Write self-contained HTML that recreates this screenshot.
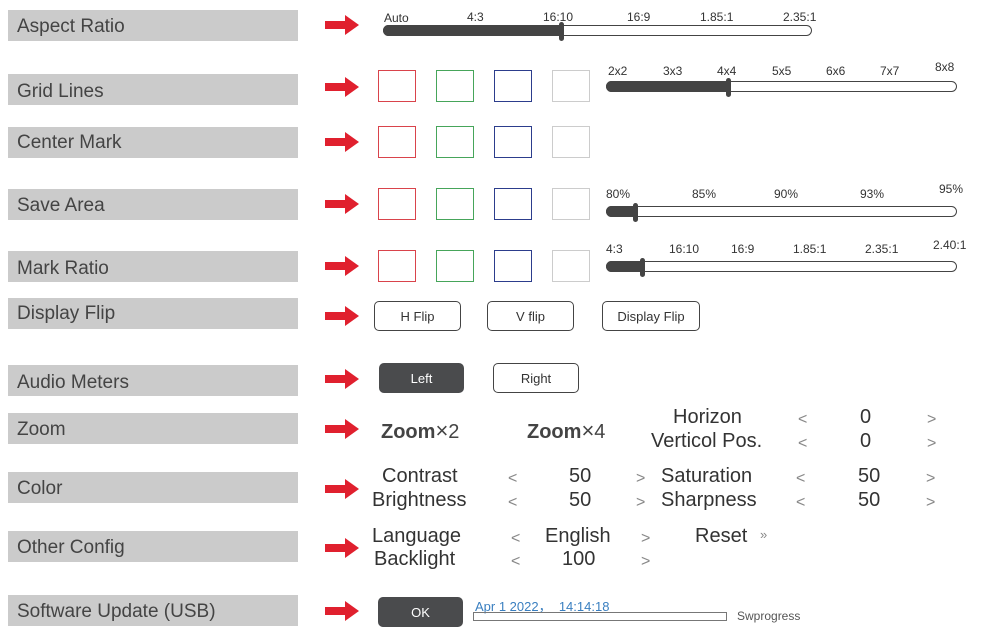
<!DOCTYPE html>
<html><head><style>
body{margin:0;width:1005px;height:634px;background:#fff;position:relative;overflow:hidden;font-family:"Liberation Sans",sans-serif;color:#444}
.l{position:absolute;left:8px;width:290px;height:31px;background:#cbcbcb;font-size:19px;line-height:35px;text-indent:9px;color:#444}
.a{position:absolute;left:325px;width:34px;height:14px}
.s{position:absolute;width:36px;height:30px;border:1.5px solid}
.t{position:absolute;font-size:12px;color:#333}
.bar{position:absolute;height:9px;border:1.5px solid #444;border-radius:6px;background:#fff;overflow:visible}
.bar i{position:absolute;left:-1px;top:-1px;bottom:-1px;background:#444;border-radius:6px 0 0 6px}
.bar b{position:absolute;top:-4px;width:5px;height:19px;background:#444;border-radius:3px}
.btn{position:absolute;height:28px;border:1.5px solid #444;border-radius:5px;font-size:13px;text-align:center;line-height:29px;color:#333}
.g{position:absolute;font-size:20px;color:#333;font-family:"Liberation Sans","Noto Sans CJK SC",sans-serif}
.c{position:absolute;font-size:16px;color:#888}
</style></head><body>
<div class="l" style="top:10px;line-height:33px">Aspect Ratio</div>
<div class="l" style="top:74px">Grid Lines</div>
<div class="l" style="top:127px;line-height:31px">Center Mark</div>
<div class="l" style="top:189px;line-height:33px">Save Area</div>
<div class="l" style="top:251px">Mark Ratio</div>
<div class="l" style="top:298px;line-height:31px">Display Flip</div>
<div class="l" style="top:365px">Audio Meters</div>
<div class="l" style="top:413px;line-height:33px">Zoom</div>
<div class="l" style="top:472px;line-height:33px">Color</div>
<div class="l" style="top:531px;line-height:33px">Other Config</div>
<div class="l" style="top:595px;line-height:33px">Software Update (USB)</div>

<svg width="1005" height="634" style="position:absolute;left:0;top:0">
<defs><g id="ar"><path d="M0,-4 H20 V-10 L34,0 L20,10 V4 H0 Z" fill="#e0202e"/></g></defs>
<use href="#ar" x="325" y="25"/><use href="#ar" x="325" y="87"/><use href="#ar" x="325" y="142"/>
<use href="#ar" x="325" y="204"/><use href="#ar" x="325" y="266"/><use href="#ar" x="325" y="316"/>
<use href="#ar" x="325" y="379"/><use href="#ar" x="325" y="429"/><use href="#ar" x="325" y="489"/>
<use href="#ar" x="325" y="548"/><use href="#ar" x="325" y="611"/>
</svg>

<div class="t" style="left:384px;top:11px">Auto</div><div class="t" style="left:467px;top:10px">4:3</div>
<div class="t" style="left:543px;top:10px">16:10</div><div class="t" style="left:627px;top:10px">16:9</div>
<div class="t" style="left:700px;top:10px">1.85:1</div><div class="t" style="left:783px;top:10px">2.35:1</div>
<div class="bar" style="left:383px;top:25px;width:427px"><i style="width:178px"></i><b style="left:175px"></b></div>

<div class="s" style="left:378px;top:70px;border-color:#d9434b"></div><div class="s" style="left:436px;top:70px;border-color:#46a55a"></div><div class="s" style="left:494px;top:70px;border-color:#2c3d8c"></div><div class="s" style="left:552px;top:70px;border-color:#ccc"></div>
<div class="s" style="left:378px;top:126px;border-color:#d9434b"></div><div class="s" style="left:436px;top:126px;border-color:#46a55a"></div><div class="s" style="left:494px;top:126px;border-color:#2c3d8c"></div><div class="s" style="left:552px;top:126px;border-color:#ccc"></div>
<div class="s" style="left:378px;top:188px;border-color:#d9434b"></div><div class="s" style="left:436px;top:188px;border-color:#46a55a"></div><div class="s" style="left:494px;top:188px;border-color:#2c3d8c"></div><div class="s" style="left:552px;top:188px;border-color:#ccc"></div>
<div class="s" style="left:378px;top:250px;border-color:#d9434b"></div><div class="s" style="left:436px;top:250px;border-color:#46a55a"></div><div class="s" style="left:494px;top:250px;border-color:#2c3d8c"></div><div class="s" style="left:552px;top:250px;border-color:#ccc"></div>

<div class="t" style="left:608px;top:64px">2x2</div><div class="t" style="left:663px;top:64px">3x3</div><div class="t" style="left:717px;top:64px">4x4</div>
<div class="t" style="left:772px;top:64px">5x5</div><div class="t" style="left:826px;top:64px">6x6</div><div class="t" style="left:880px;top:64px">7x7</div><div class="t" style="left:935px;top:60px">8x8</div>
<div class="bar" style="left:606px;top:81px;width:349px"><i style="width:122px"></i><b style="left:119px"></b></div>

<div class="t" style="left:606px;top:187px">80%</div><div class="t" style="left:692px;top:187px">85%</div><div class="t" style="left:774px;top:187px">90%</div>
<div class="t" style="left:860px;top:187px">93%</div><div class="t" style="left:939px;top:182px">95%</div>
<div class="bar" style="left:606px;top:206px;width:349px"><i style="width:30px"></i><b style="left:26px"></b></div>

<div class="t" style="left:606px;top:242px">4:3</div><div class="t" style="left:669px;top:242px">16:10</div><div class="t" style="left:731px;top:242px">16:9</div>
<div class="t" style="left:793px;top:242px">1.85:1</div><div class="t" style="left:865px;top:242px">2.35:1</div><div class="t" style="left:933px;top:238px">2.40:1</div>
<div class="bar" style="left:606px;top:261px;width:349px"><i style="width:37px"></i><b style="left:33px"></b></div>

<div class="btn" style="left:374px;top:301px;width:85px">H Flip</div>
<div class="btn" style="left:487px;top:301px;width:85px">V flip</div>
<div class="btn" style="left:602px;top:301px;width:96px">Display Flip</div>
<div class="btn" style="left:379px;top:363px;width:83px;background:#4a4b4d;border-color:#4a4b4d;color:#fff">Left</div>
<div class="btn" style="left:493px;top:363px;width:84px">Right</div>

<div class="g" style="left:381px;top:418px;font-weight:bold;color:#444">Zoom<span style="font-weight:normal;font-size:22px">×</span><span style="font-weight:normal">2</span></div>
<div class="g" style="left:527px;top:418px;font-weight:bold;color:#444">Zoom<span style="font-weight:normal;font-size:22px">×</span><span style="font-weight:normal">4</span></div>
<div class="g" style="left:673px;top:406px">Horizon</div>
<div class="g" style="left:651px;top:430px">Verticol Pos.</div>
<div class="c" style="left:798px;top:411px">&lt;</div><div class="g" style="left:860px;top:406px">0</div><div class="c" style="left:927px;top:411px">&gt;</div>
<div class="c" style="left:798px;top:435px">&lt;</div><div class="g" style="left:860px;top:430px">0</div><div class="c" style="left:927px;top:435px">&gt;</div>

<div class="g" style="left:382px;top:465px">Contrast</div><div class="g" style="left:372px;top:489px">Brightness</div>
<div class="c" style="left:508px;top:470px">&lt;</div><div class="g" style="left:569px;top:465px">50</div><div class="c" style="left:636px;top:470px">&gt;</div>
<div class="c" style="left:508px;top:494px">&lt;</div><div class="g" style="left:569px;top:489px">50</div><div class="c" style="left:636px;top:494px">&gt;</div>
<div class="g" style="left:661px;top:465px">Saturation</div><div class="g" style="left:661px;top:489px">Sharpness</div>
<div class="c" style="left:796px;top:470px">&lt;</div><div class="g" style="left:858px;top:465px">50</div><div class="c" style="left:926px;top:470px">&gt;</div>
<div class="c" style="left:796px;top:494px">&lt;</div><div class="g" style="left:858px;top:489px">50</div><div class="c" style="left:926px;top:494px">&gt;</div>

<div class="g" style="left:372px;top:525px">Language</div><div class="g" style="left:374px;top:548px">Backlight</div>
<div class="c" style="left:511px;top:530px">&lt;</div><div class="g" style="left:545px;top:525px">English</div><div class="c" style="left:641px;top:530px">&gt;</div>
<div class="c" style="left:511px;top:553px">&lt;</div><div class="g" style="left:562px;top:548px">100</div><div class="c" style="left:641px;top:553px">&gt;</div>
<div class="g" style="left:695px;top:525px">Reset</div><div class="c" style="left:760px;top:527px;font-size:13px">»</div>

<div class="btn" style="left:378px;top:597px;width:83px;background:#4a4b4d;border-color:#4a4b4d;color:#fff">OK</div>
<div style="position:absolute;left:475px;top:596px;font-size:13px;color:#3a7fc0">Apr 1 2022，&nbsp;&nbsp;14:14:18</div>
<div style="position:absolute;left:473px;top:612px;width:252px;height:7px;border:1.5px solid #777"></div>
<div style="position:absolute;left:737px;top:609px;font-size:12px;color:#555">Swprogress</div>
</body></html>
